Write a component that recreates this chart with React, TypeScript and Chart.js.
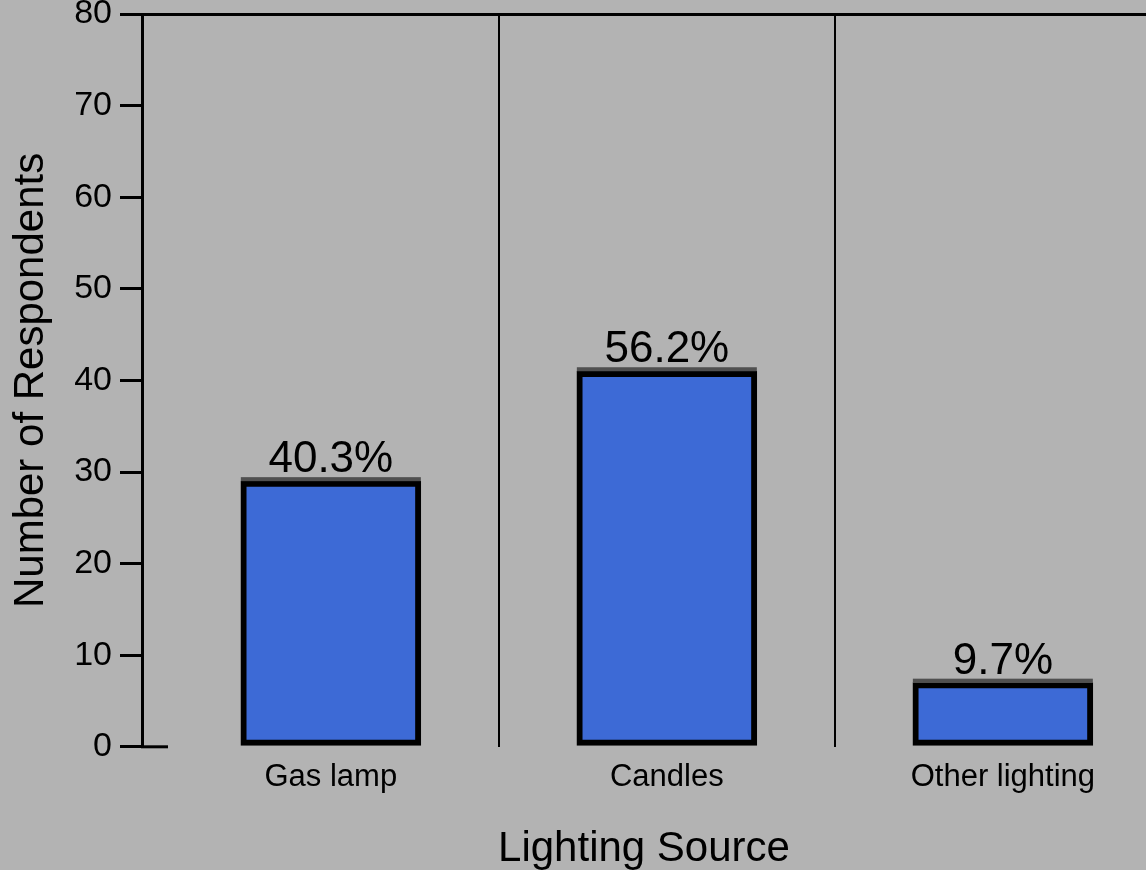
import React, { useEffect, useRef } from 'react';
import { Chart, registerables } from 'chart.js';

Chart.register(...registerables);

const categories = ['Gas lamp', 'Candles', 'Other lighting'];
const respondents = [29, 41, 7];
const percentLabels = ['40.3%', '56.2%', '9.7%'];
const yTickValues = [0, 10, 20, 30, 40, 50, 60, 70, 80];
const xTickValues = [0, 0.5, 1, 1.5, 2];

const FONT = "'Liberation Sans', Arial, Helvetica, sans-serif";
const BG = '#b3b3b3';
const BAR = '#3d6ad6';

export default function App() {
  const ref = useRef<HTMLCanvasElement | null>(null);

  useEffect(() => {
    document.body.style.margin = '0';
    document.body.style.background = BG;
    const canvas = ref.current;
    if (!canvas) return;

    const decorations = {
      id: 'decorations',
      afterDatasetsDraw(chart: any) {
        const ctx = chart.ctx;
        const meta = chart.getDatasetMeta(0);
        ctx.save();
        meta.data.forEach((bar: any, i: number) => {
          const { x, y, width } = bar.getProps(['x', 'y', 'width'], true);
          ctx.fillStyle = '#505050';
          ctx.fillRect(x - width / 2, y - 4, width, 4);
          ctx.fillStyle = '#000';
          ctx.font = `44px ${FONT}`;
          ctx.textAlign = 'center';
          ctx.textBaseline = 'alphabetic';
          ctx.fillText(percentLabels[i], x, y - 9);
        });
        const ys = chart.scales.y;
        const y0 = ys.getPixelForValue(0);
        ctx.strokeStyle = '#000';
        ctx.lineWidth = 3;
        ctx.beginPath();
        ctx.moveTo(ys.right - 1, y0);
        ctx.lineTo(ys.right + 26, y0);
        ctx.stroke();
        ctx.restore();
      },
    };

    const chart = new Chart(canvas, {
      type: 'bar',
      data: {
        datasets: [
          {
            data: respondents.map((v, i) => ({ x: i, y: v })),
            backgroundColor: BAR,
            borderColor: '#000',
            borderWidth: 6,
            borderSkipped: false,
            barThickness: 180,
          },
        ],
      },
      options: {
        responsive: false,
        animation: false,
        layout: { padding: 0 },
        plugins: {
          legend: { display: false },
          tooltip: { enabled: false },
        },
        scales: {
          x: {
            type: 'linear',
            offset: false,
            min: -0.562,
            max: 2.426,
            afterBuildTicks: (axis: any) => {
              axis.ticks = xTickValues.map((v) => ({ value: v }));
            },
            ticks: {
              color: '#000',
              padding: 12,
              maxRotation: 0,
              autoSkip: false,
              font: { family: FONT, size: 31 },
              callback: (v: any) => (Number.isInteger(v) ? categories[v] : ''),
            },
            grid: {
              offset: false,
              drawTicks: false,
              lineWidth: 2,
              color: (c: any) =>
                c.tick && !Number.isInteger(c.tick.value) ? '#000' : 'rgba(0,0,0,0)',
            },
            border: { display: false },
            title: {
              display: true,
              text: 'Lighting Source',
              color: '#000',
              font: { family: FONT, size: 42, lineHeight: 1 },
              padding: { top: 20, bottom: 0 },
            },
          },
          y: {
            min: 0,
            max: 80,
            afterFit: (s: any) => {
              s.width = 142;
            },
            afterBuildTicks: (axis: any) => {
              axis.ticks = yTickValues.map((v) => ({ value: v }));
            },
            ticks: {
              color: '#000',
              padding: 8,
              font: { family: FONT, size: 34, lineHeight: 0.353 },
            },
            grid: {
              drawTicks: true,
              tickLength: 22,
              tickWidth: 3,
              tickColor: '#000',
              lineWidth: 3,
              color: (c: any) => (c.tick && c.tick.value === 80 ? '#000' : 'rgba(0,0,0,0)'),
            },
            border: { display: true, color: '#000', width: 3 },
            title: {
              display: true,
              text: 'Number of Respondents',
              color: '#000',
              font: { family: FONT, size: 42 },
              padding: { top: 6, bottom: 0 },
            },
          },
        },
      },
      plugins: [decorations],
    } as any);

    return () => chart.destroy();
  }, []);

  return (
    <div style={{ position: 'fixed', left: 0, top: 0, width: 1146, height: 870, background: BG, overflow: 'hidden' }}>
      <canvas ref={ref} width={1146} height={870} style={{ display: 'block' }} />
    </div>
  );
}
